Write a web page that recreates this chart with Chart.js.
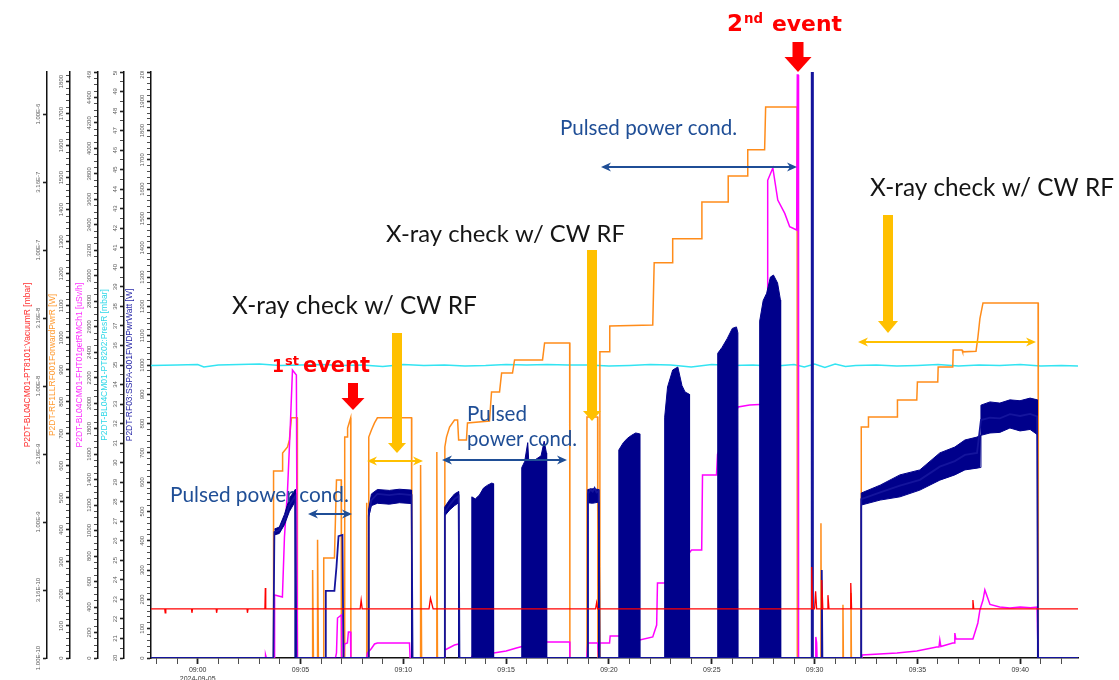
<!DOCTYPE html>
<html>
<head>
<meta charset="utf-8">
<title>P2DT RF conditioning 2024-09-05</title>
<script src="https://cdn.jsdelivr.net/npm/chart.js@4.4.1/dist/chart.umd.min.js"></script>
<style>
  html, body { margin: 0; padding: 0; background: #fff; }
  canvas { display: block; }
</style>
</head>
<body>
<canvas id="trend" width="1119" height="680"></canvas>
<script>
// time is in minutes after 09:00 (2024-09-05)
const tMin = -2.27;
const tMax = 42.81;

// P2DT-RF03:SSPA-001FWDPwrWatt [W] - CW trace
const blueT = [-2.27, 3.68, 3.73, 3.97, 4.22, 4.46, 4.75, 4.80,
  6.22, 6.23, 6.65, 6.75, 6.85, 7.04, 7.09,
  8.31, 8.32, 8.45, 8.74, 9.32, 9.81, 10.40, 10.45,
  12.01, 12.02, 12.25, 12.49, 12.69, 12.73,
  18.97, 18.98, 19.10, 19.21, 19.30, 19.40, 19.50, 19.55,
  29.84, 29.86, 29.90, 29.92,
  30.33, 30.35, 30.38,
  32.26, 32.27, 33.19, 34.15, 35.12, 36.09, 36.82, 37.31, 37.90, 38.09, 38.53, 39.01, 39.50, 39.99, 40.48, 40.82, 40.87, 42.81];
const blueW = [0, 0, 430, 437, 471, 522, 553, 0,
  0, 229, 229, 311, 416, 420, 0,
  0, 488, 539, 560, 556, 560, 556, 0,
  0, 498, 522, 543, 553, 0,
  0, 560, 575, 568, 580, 565, 570, 0,
  0, 2000, 2000, 0,
  0, 300, 0,
  0, 542, 565, 588, 608, 653, 672, 693, 700, 812, 820, 818, 832, 826, 833, 825, 0, 0];

// same signal, envelope of the pulse trains
const pulseT = [13.32, 13.33, 13.5, 13.7, 13.9, 14.1, 14.3, 14.38, 14.39,
  15.75, 15.76, 15.9, 16.05, 16.1, 16.4, 16.7, 16.85, 16.96, 16.97,
  20.47, 20.48, 20.7, 20.9, 21.1, 21.3, 21.49, 21.50,
  22.70, 22.71, 22.85, 23.1, 23.35, 23.55, 23.7, 23.91, 23.92,
  25.28, 25.29, 25.5, 25.75, 26.0, 26.2, 26.27, 26.28,
  27.32, 27.33, 27.5, 27.67, 27.85, 28.0, 28.2, 28.34, 28.35];
const pulseW = [0, 550, 543, 556, 580, 590, 597, 595, 0,
  0, 650, 670, 735, 672, 676, 690, 740, 700, 0,
  0, 710, 735, 750, 760, 768, 765, 0,
  0, 822, 925, 983, 993, 930, 908, 900, 0,
  0, 1040, 1060, 1090, 1125, 1130, 1110, 0,
  0, 1150, 1220, 1245, 1300, 1307, 1280, 1222, 0];

// same signal, noise band (upper / lower edge) of the CW runs
const bandT = [3.73, 3.97, 4.22, 4.46, 4.75, 4.75,
  8.31, 8.31, 8.45, 8.74, 9.32, 9.81, 10.40, 10.40,
  12.01, 12.01, 12.25, 12.49, 12.69, 12.69,
  18.97, 18.97, 19.2, 19.5, 19.5,
  32.26, 32.27, 33.19, 34.15, 35.12, 36.09, 36.82, 37.31, 37.90, 38.05, 38.09, 38.53, 39.01, 39.50, 39.99, 40.48, 40.84, 40.84];
const bandHi = [440, 447, 490, 545, 575, 0,
  0, 505, 560, 575, 572, 576, 573, 0,
  0, 515, 540, 560, 568, 0,
  0, 575, 578, 575, 0,
  0, 563, 590, 625, 642, 700, 720, 744, 754, 760, 863, 874, 870, 881, 878, 887, 881, 0];
const bandLo = [420, 425, 455, 500, 535, 0,
  0, 480, 520, 528, 525, 530, 527, 0,
  0, 485, 505, 520, 530, 0,
  0, 530, 528, 532, 0,
  0, 522, 539, 550, 573, 607, 625, 642, 648, 650, 760, 768, 770, 785, 775, 780, 762, 0];

// P2DT-RF1LLRF001ForwardPwrR [W]
const orT = [-2.27, 3.68, 3.69, 4.12, 4.13, 4.37, 4.46, 4.56, 4.84, 4.85,
  5.58, 5.59, 5.63,
  5.82, 5.83, 5.87,
  6.12, 6.13, 6.65, 6.75, 6.98, 6.99, 7.14, 7.15, 7.28, 7.29, 7.38, 7.44, 7.45,
  8.21, 8.22, 8.24,
  8.31, 8.32, 8.45, 8.60, 8.74, 10.40, 10.41,
  10.83, 10.84, 10.89,
  11.62, 11.63, 11.66,
  12.01, 12.02, 12.10, 12.25, 12.49, 12.64, 12.69, 13.07, 13.12, 14.19, 14.29, 14.68, 14.78, 15.31, 15.41, 16.77, 16.87, 18.09, 18.10,
  18.92, 18.93, 19.45, 19.46,
  19.55, 19.56, 20.03, 20.04, 22.13, 22.20, 23.09, 23.10, 24.51, 24.52, 25.79, 25.80, 26.74, 26.75, 27.57, 27.62, 29.15, 29.16,
  30.30, 30.31, 30.33,
  31.37, 31.38, 31.40,
  31.76, 31.77, 31.79,
  32.26, 32.27, 32.60, 32.62, 34.01, 34.03, 34.97, 35.00, 35.99, 36.01, 36.72, 36.74, 37.17, 37.20, 37.85, 37.94, 38.04, 38.19, 40.87, 40.88, 42.81];
const orW = [0, 0, 584, 584, 640, 659, 681, 750, 750, 0,
  0, 275, 0,
  0, 369, 0,
  0, 312, 312, 556, 556, 0, 0, 690, 690, 718, 737, 750, 0,
  0, 485, 0,
  0, 690, 712, 734, 750, 750, 0,
  0, 603, 0,
  0, 643, 0,
  0, 659, 690, 721, 743, 743, 681, 681, 734, 740, 831, 831, 890, 890, 931, 931, 984, 984, 0,
  0, 753, 753, 0,
  0, 956, 956, 1037, 1040, 1234, 1234, 1309, 1309, 1424, 1424, 1505, 1505, 1587, 1587, 1721, 1721, 0,
  0, 421, 0,
  0, 166, 0,
  0, 203, 0,
  0, 721, 721, 753, 753, 806, 806, 862, 862, 909, 909, 962, 962, 956, 958, 1000, 1060, 1109, 1109, 0, 0];

// P2DT-BL04CM01-FHT01getRMCh1 [uSv/h]
const rmT = [-2.27, 3.29, 3.30, 3.34, 3.73, 3.74, 4.12, 4.22, 4.37, 4.46, 4.51, 4.61, 4.80, 4.85,
  6.70, 6.75, 6.80, 6.99, 7.00, 7.09, 7.14, 7.28, 7.33, 7.43, 7.45,
  8.21, 8.26, 8.45, 8.60, 8.74, 10.30, 10.33,
  12.01, 12.02, 12.49, 12.69, 12.73,
  13.30, 13.40, 14.39, 15.0, 15.5, 16.0, 16.97, 18.09, 18.10,
  18.92, 18.97, 19.45, 19.50, 19.55, 20.03, 20.06, 21.0, 21.5, 22.13, 22.32, 22.36, 22.70, 24.02, 24.51, 24.55, 25.23, 25.28, 26.28, 26.84, 27.32, 27.70, 27.72, 27.97, 28.21, 28.55, 28.79, 29.13, 29.16, 29.20, 29.22,
  30.05, 30.06, 30.10, 30.12, 32.30, 32.31, 34.01, 34.97, 35.94, 36.05, 36.09, 36.14, 36.72, 36.78, 36.82, 36.87, 37.70, 37.94, 38.04, 38.19, 38.28, 38.53, 39.0, 39.5, 40.0, 40.5, 40.82, 40.87, 42.81];
const rmV = [0, 0, 25, 0, 0, 495, 479, 950, 1319, 1656, 1845, 2261, 2222, 0,
  0, 40, 314, 338, 0, 0, 110, 118, 204, 204, 0,
  0, 40, 75, 110, 118, 118, 0,
  0, 63, 102, 110, 0,
  0, 30, 39, 55, 78, 100, 126, 126, 0,
  0, 118, 118, 0, 118, 118, 173, 173, 141, 165, 259, 589, 589, 848, 848, 1437, 1437, 1600, 1970, 1986, 1990, 1990, 3750, 3847, 3595, 3490, 3385, 3360, 4577, 4577, 0,
  0, 165, 120, 0, 0, 24, 39, 55, 86, 86, 141, 90, 118, 118, 196, 149, 149, 275, 377, 455, 534, 420, 400, 393, 400, 395, 400, 0, 0];

// P2DT-BL04CM01-PT8202:PresR [mbar]
const presT = [-2.27, -1, 0, 0.3, 1, 2, 3, 4, 5, 6, 7, 8, 9, 10, 11, 12, 13, 14, 15, 16, 17, 18, 19, 20,
  21, 22, 23, 24, 25, 26, 27, 28, 29, 29.5, 30, 30.5, 31, 31.5, 32, 33, 34, 35, 36, 37, 38, 39, 40, 41, 42, 42.81];
const presV = [34.98, 35.0, 35.02, 34.9, 35.0, 35.03, 35.05, 34.98, 35.0, 35.02, 34.97, 35.0, 34.92, 35.02, 34.98, 35.0, 34.95, 34.97, 35.02, 35.0, 35.03, 35.0, 35.0, 34.95,
  34.98, 35.02, 35.0, 34.9, 35.03, 34.98, 35.0, 34.93, 35.02, 34.9, 35.05, 34.88, 35.05, 34.92, 34.97, 35.0, 34.95, 34.98, 35.02, 34.95, 35.0, 34.97, 35.02, 34.95, 34.97, 34.95];

// P2DT-BL04CM01-PT8101:VacuumR [mbar]
const vacT = [-2.27, -1.60, -1.58, -1.55, -0.30, -0.28, -0.25, 0.90, 0.92, 0.95, 2.40, 2.42, 2.45, 3.27, 3.29, 3.31,
  7.90, 7.95, 8.0, 11.25, 11.32, 11.45, 19.35, 19.40, 19.45, 29.84, 29.86, 29.90, 30.00, 30.05, 30.10,
  30.33, 30.35, 30.40, 30.62, 30.65, 30.70, 31.74, 31.76, 31.80, 37.66, 37.70, 37.74, 42.81];
const vacP = [2.3e-10, 2.3e-10, 2.15e-10, 2.3e-10, 2.3e-10, 2.15e-10, 2.3e-10, 2.3e-10, 2.15e-10, 2.3e-10, 2.3e-10, 2.15e-10, 2.3e-10, 2.3e-10, 3.27e-10, 2.3e-10,
  2.3e-10, 2.67e-10, 2.3e-10, 2.3e-10, 2.75e-10, 2.3e-10, 2.3e-10, 2.55e-10, 2.3e-10, 2.3e-10, 4.67e-10, 2.3e-10, 2.3e-10, 3.1e-10, 2.3e-10,
  2.3e-10, 3.75e-10, 2.3e-10, 2.3e-10, 2.9e-10, 2.3e-10, 2.3e-10, 3.56e-10, 2.3e-10, 2.3e-10, 2.67e-10, 2.3e-10, 2.3e-10];

const vacTicks = [1e-10, 3.16e-10, 1e-9, 3.16e-9, 1e-8, 3.16e-8, 1e-7, 3.16e-7, 1e-6];
const vacTickText = ['1.00E-10', '3.16E-10', '1.00E-9', '3.16E-9', '1.00E-8', '3.16E-8', '1.00E-7', '3.16E-7', '1.00E-6'];

function pts(t, v) {
  return t.map((x, i) => ({ x: x, y: v[i] }));
}

function timeLabel(v) {
  if (v % 5 !== 0 || v < 0) return '';
  const txt = '09:' + String(v).padStart(2, '0');
  return v === 0 ? [txt, '2024-09-05'] : txt;
}

// which ticks carry a label on each side axis
const tickText = {
  yB: v => v % 100 === 0 ? String(v) : '',
  yC: v => Number.isInteger(v) ? String(v) : '',
  yM: v => v % 200 === 0 ? String(v) : '',
  yO: v => v % 100 === 0 ? String(v) : '',
  yR: v => { const i = vacTicks.indexOf(v); return i < 0 ? '' : vacTickText[i]; }
};

function sideAxis(id, color, title, width, pad, extra) {
  return Object.assign({
    type: 'linear',
    position: 'left',
    border: { display: true, color: '#111', width: 1.5 },
    grid: {
      drawOnChartArea: false, tickLength: 4, tickColor: '#222',
      tickWidth: c => (c.tick && tickText[id](c.tick.value)) ? 1.6 : 0.8
    },
    ticks: { display: false, includeBounds: false },
    title: {
      display: true, text: title, color: color,
      font: { size: 8.5, family: 'Liberation Sans' },
      padding: { top: pad, bottom: 0 }
    },
    afterFit: s => { s.width = width; }
  }, extra);
}

// rotated tick labels of the stacked left axes
const sideLabels = {
  id: 'sideLabels',
  afterDraw(chart) {
    const ctx = chart.ctx;
    ctx.save();
    ctx.beginPath();
    ctx.rect(0, 71, chart.chartArea.left, 609);
    ctx.clip();
    ctx.fillStyle = '#5a5a5a';
    ctx.font = '6px "Liberation Sans"';
    ctx.textAlign = 'center';
    ctx.textBaseline = 'middle';
    Object.keys(tickText).forEach(id => {
      const s = chart.scales[id];
      s.ticks.forEach(t => {
        const txt = tickText[id](t.value);
        if (!txt) return;
        ctx.save();
        ctx.translate(s.right - 9, s.getPixelForValue(t.value));
        ctx.rotate(-Math.PI / 2);
        ctx.fillText(txt, 0, 0);
        ctx.restore();
      });
    });
    ctx.restore();
  }
};

function fitText(ctx, txt, x0, x1, base, font, color) {
  ctx.font = font.replace('%s', '100px');
  const size = 100 * (x1 - x0) / ctx.measureText(txt).width;
  ctx.font = font.replace('%s', size.toFixed(2) + 'px');
  ctx.fillStyle = color;
  ctx.textAlign = 'left';
  ctx.textBaseline = 'alphabetic';
  ctx.fillText(txt, x0, base);
}

function downArrow(ctx, cx, top, tip, shaftW, headW, headH, color) {
  ctx.fillStyle = color;
  ctx.fillRect(cx - shaftW / 2, top, shaftW, tip - headH - top + 0.5);
  ctx.beginPath();
  ctx.moveTo(cx - headW / 2, tip - headH);
  ctx.lineTo(cx + headW / 2, tip - headH);
  ctx.lineTo(cx, tip);
  ctx.closePath();
  ctx.fill();
}

function bothWays(ctx, x0, x1, y, color) {
  ctx.strokeStyle = color;
  ctx.fillStyle = color;
  ctx.lineWidth = 2;
  ctx.beginPath();
  ctx.moveTo(x0 + 5, y);
  ctx.lineTo(x1 - 5, y);
  ctx.stroke();
  [[x0, 1], [x1, -1]].forEach(([x, d]) => {
    ctx.beginPath();
    ctx.moveTo(x, y);
    ctx.lineTo(x + d * 10, y - 4.5);
    ctx.lineTo(x + d * 7, y);
    ctx.lineTo(x + d * 10, y + 4.5);
    ctx.closePath();
    ctx.fill();
  });
}

const navy = '#1f4e96';
const amber = '#ffc000';
const noteFont = '%s Lato';
const eventFont = 'bold %s "DejaVu Sans"';

const notes = {
  id: 'notes',
  afterDraw(chart) {
    const ctx = chart.ctx;
    ctx.save();
    // 2nd event
    fitText(ctx, '2', 727, 743, 31, eventFont, '#ff0000');
    fitText(ctx, 'nd', 744, 763, 23, eventFont, '#ff0000');
    fitText(ctx, 'event', 772, 842, 31, eventFont, '#ff0000');
    downArrow(ctx, 798, 42, 72, 11, 27, 15, '#ff0000');
    // 1st event
    fitText(ctx, '1', 272, 284, 372, eventFont, '#ff0000');
    fitText(ctx, 'st', 285, 299, 365, eventFont, '#ff0000');
    fitText(ctx, 'event', 303, 370, 372, eventFont, '#ff0000');
    downArrow(ctx, 353, 383, 410, 10, 23, 12, '#ff0000');
    // X-ray checks
    fitText(ctx, 'X-ray check w/ CW RF', 870, 1114, 196, noteFont, '#151515');
    fitText(ctx, 'X-ray check w/ CW RF', 386, 625, 242, noteFont, '#151515');
    fitText(ctx, 'X-ray check w/ CW RF', 232, 477, 314, noteFont, '#151515');
    downArrow(ctx, 888, 215, 333, 10, 20, 12, amber);
    downArrow(ctx, 592, 250, 421, 10, 18, 10, amber);
    downArrow(ctx, 397, 333, 453, 10, 18, 10, amber);
    bothWays(ctx, 858, 1036, 342, amber);
    bothWays(ctx, 367, 423, 461, amber);
    // pulsed conditioning
    fitText(ctx, 'Pulsed power cond.', 560, 737, 135, noteFont, navy);
    fitText(ctx, 'Pulsed power cond.', 170, 349, 502, noteFont, navy);
    fitText(ctx, 'Pulsed', 467, 527, 421, noteFont, navy);
    fitText(ctx, 'power cond.', 467, 577, 446, noteFont, navy);
    bothWays(ctx, 601, 797, 167, navy);
    bothWays(ctx, 442, 567, 460, navy);
    bothWays(ctx, 308, 352, 514, navy);
    ctx.restore();
  }
};

new Chart(document.getElementById('trend').getContext('2d'), {
  type: 'line',
  data: {
    datasets: [
      { label: 'VacuumR', data: pts(vacT, vacP), yAxisID: 'yR', borderColor: '#ff0000', borderWidth: 1.3 },
      { label: 'FWDPwrWatt', data: pts(blueT, blueW), yAxisID: 'yB', borderColor: '#14149c', borderWidth: 1.8 },
      { label: 'pulsed', data: pts(pulseT, pulseW), yAxisID: 'yB', borderColor: '#00008b', borderWidth: 1, backgroundColor: '#00008b', fill: 'origin' },
      { label: 'band hi', data: pts(bandT, bandHi), yAxisID: 'yB', borderColor: '#00008b', borderWidth: 1, backgroundColor: '#00008b', fill: '+1' },
      { label: 'band lo', data: pts(bandT, bandLo), yAxisID: 'yB', borderColor: '#00008b', borderWidth: 1 },
      { label: 'getRMCh1', data: pts(rmT, rmV), yAxisID: 'yM', borderColor: '#ff00ff', borderWidth: 1.5 },
      { label: 'ForwardPwrR', data: pts(orT, orW), yAxisID: 'yO', borderColor: '#ff8c1a', borderWidth: 1.5 },
      { label: 'PresR', data: pts(presT, presV), yAxisID: 'yC', borderColor: '#33e4f2', borderWidth: 1.5 }
    ]
  },
  options: {
    responsive: false,
    animation: false,
    devicePixelRatio: 1,
    events: [],
    layout: { padding: { top: 72, right: 41, bottom: 0, left: 0 } },
    elements: { point: { radius: 0 }, line: { tension: 0 } },
    plugins: { legend: { display: false }, tooltip: { enabled: false } },
    scales: {
      x: {
        type: 'linear', min: tMin, max: tMax,
        border: { color: '#111', width: 1.5 },
        grid: {
          drawOnChartArea: false, tickLength: 6, tickColor: '#222',
          tickWidth: c => (c.tick && c.tick.value % 5 === 0) ? 1.8 : 0.8
        },
        ticks: {
          stepSize: 1, includeBounds: false, autoSkip: false, maxRotation: 0, padding: 2,
          color: '#333', font: { size: 7, family: 'Liberation Sans' }, callback: timeLabel
        },
        afterFit: s => { s.height = 22; }
      },
      yB: sideAxis('yB', '#2828a8', 'P2DT-RF03:SSPA-001FWDPwrWatt [W]', 27, 1,
        { min: 0, max: 2000, ticks: { display: false, stepSize: 20, includeBounds: false } }),
      yC: sideAxis('yC', '#2fd8e8', 'P2DT-BL04CM01-PT8202:PresR [mbar]', 26, 2,
        { min: 20, max: 50, ticks: { display: false, stepSize: 0.5, includeBounds: false } }),
      yM: sideAxis('yM', '#ff30ff', 'P2DT-BL04CM01-FHT01getRMCh1 [uSv/h]', 28, 5,
        { min: 0, max: 4600, ticks: { display: false, stepSize: 50, includeBounds: false } }),
      yO: sideAxis('yO', '#ff9a30', 'P2DT-RF1LLRF001ForwardPwrR [W]', 23, 1,
        { min: 0, max: 1830, ticks: { display: false, stepSize: 20, includeBounds: false } }),
      yR: sideAxis('yR', '#ff3030', 'P2DT-BL04CM01-PT8101:VacuumR [mbar]', 47, 23,
        { type: 'logarithmic', min: 1e-10, max: 2.04e-6,
          afterBuildTicks: s => { s.ticks = vacTicks.map(v => ({ value: v })); } })
    }
  },
  plugins: [sideLabels, notes]
});
</script>
</body>
</html>
